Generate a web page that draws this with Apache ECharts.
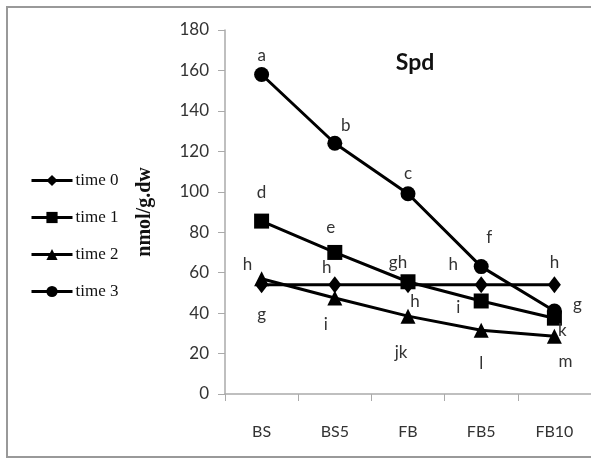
<!DOCTYPE html>
<html>
<head>
<meta charset="utf-8">
<script src="https://cdn.jsdelivr.net/npm/echarts@6/dist/echarts.min.js"></script>
<style>
  html, body { margin: 0; padding: 0; background: #fff; }
  #chart { width: 591px; height: 459px; }
</style>
</head>
<body>
<div id="chart"></div>
<script>
// Sampling stages
const categories = ['BS', 'BS5', 'FB', 'FB5', 'FB10'];

// Spd content (nmol/g.dw) per sampling time
const time0 = [54, 54, 54, 54, 54];
const time1 = [85.5, 70, 55.5, 46, 37.5];
const time2 = [57, 47.5, 38.5, 31.5, 28.5];
const time3 = [158, 124, 99, 63, 41];

// Significance letters per series and point
const letters0 = ['h', 'h', 'h', 'h', 'h'];
const letters1 = ['d', 'e', 'gh', 'i', 'k'];
const letters2 = ['g', 'i', 'jk', 'l', 'm'];
const letters3 = ['a', 'b', 'c', 'f', 'g'];

// Letter placement offsets (px) from each marker
const offsets0 = [[-14, -20], [-8, -17], [7, 17], [-28, -20], [0, -22]];
const offsets1 = [[0, -29], [-4, -25], [-10, -19], [-23, 7], [8, 12]];
const offsets2 = [[0, 36], [-9, 27], [-7, 36], [0, 33], [11, 25]];
const offsets3 = [[0, -19], [11, -18], [0, -20], [8, -29], [23, -7]];

const yTicks = { min: 0, max: 180, interval: 20 };

const letterFont = { fontFamily: 'Lato', fontSize: 17, color: '#333' };

function withLetters(values, letters, offsets) {
  return values.map((v, i) => ({
    value: v,
    label: {
      show: true,
      position: 'inside',
      offset: offsets[i],
      formatter: letters[i],
      ...letterFont
    }
  }));
}

function makeSeries(name, values, letters, offsets, symbol, size) {
  return {
    name,
    type: 'line',
    data: withLetters(values, letters, offsets),
    symbol,
    symbolSize: size,
    lineStyle: { color: '#000', width: 3 },
    itemStyle: { color: '#000' },
    emphasis: { disabled: true },
    animation: false
  };
}

const chart = echarts.init(document.getElementById('chart'), null, { renderer: 'canvas' });

chart.setOption({
  backgroundColor: '#fff',
  animation: false,
  title: {
    text: 'Spd',
    left: 410,
    top: 46,
    textAlign: 'center',
    textStyle: { fontFamily: 'Lato', fontWeight: 'bold', fontSize: 23, color: '#111' }
  },
  legend: {
    orient: 'vertical',
    left: 25,
    top: 167,
    itemWidth: 41,
    itemHeight: 14,
    itemGap: 20,
    lineStyle: { width: 3, color: '#000' },
    textStyle: { fontFamily: 'Liberation Serif', fontSize: 17, color: '#111', padding: [0, 0, 0, -2] },
    data: ['time 0', 'time 1', 'time 2', 'time 3']
  },
  grid: { left: 225, top: 30, width: 370, bottom: 65 },
  xAxis: {
    type: 'category',
    data: categories,
    boundaryGap: true,
    axisLine: { lineStyle: { color: '#aaa', width: 1.5 } },
    axisTick: { show: true, length: 7, lineStyle: { color: '#aaa' } },
    axisLabel: { margin: 30, fontFamily: 'Lato', fontSize: 16, color: '#333' }
  },
  yAxis: {
    type: 'value',
    min: yTicks.min,
    max: yTicks.max,
    interval: yTicks.interval,
    name: 'nmol/g.dw',
    nameLocation: 'middle',
    nameGap: 70,
    nameRotate: 90,
    nameTextStyle: { fontFamily: 'Liberation Serif', fontWeight: 'bold', fontSize: 20, color: '#111' },
    axisLine: { show: true, lineStyle: { color: '#aaa', width: 1.5 } },
    axisTick: { show: true, length: 7, lineStyle: { color: '#aaa' } },
    axisLabel: { margin: 16, fontFamily: 'Lato', fontSize: 17, color: '#333' },
    splitLine: { show: false }
  },
  graphic: [
    {
      type: 'rect',
      shape: { x: 7, y: 7, width: 620, height: 450 },
      style: { fill: 'none', stroke: '#999', lineWidth: 2 },
      silent: true
    }
  ],
  series: [
    makeSeries('time 0', time0, letters0, offsets0, 'diamond', [13, 17]),
    makeSeries('time 1', time1, letters1, offsets1, 'rect', 15),
    makeSeries('time 2', time2, letters2, offsets2, 'triangle', 15),
    makeSeries('time 3', time3, letters3, offsets3, 'circle', 15)
  ]
});
</script>
</body>
</html>
